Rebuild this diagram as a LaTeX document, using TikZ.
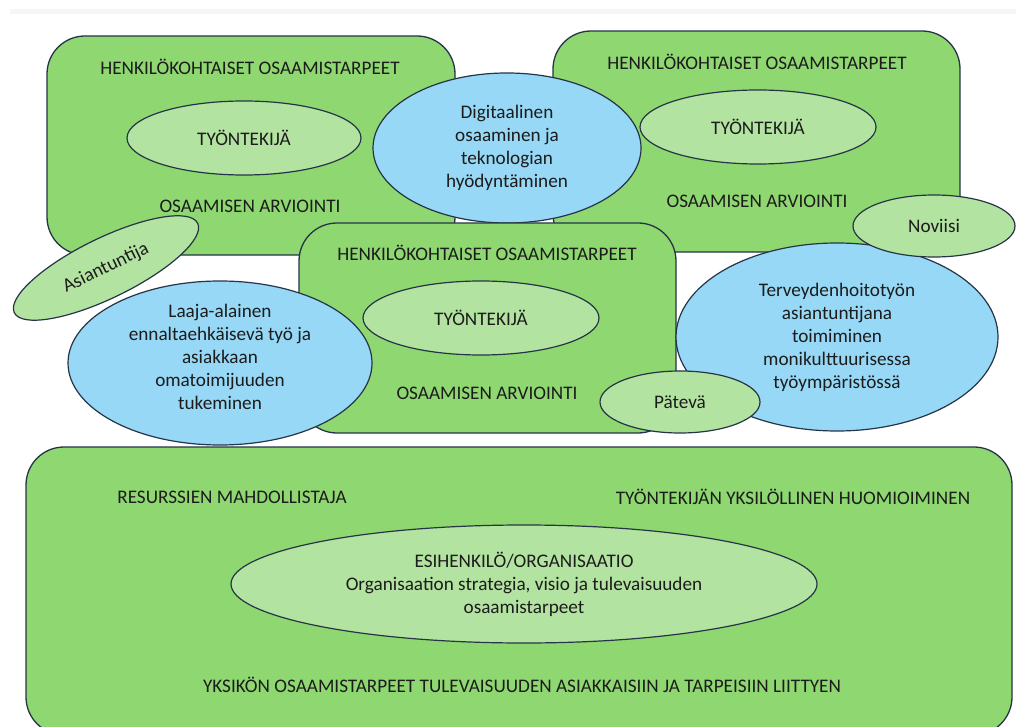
\documentclass[tikz,border=0pt]{standalone}
\usepackage{fontspec}
\setmainfont{Carlito}
\usetikzlibrary{shapes.geometric}
\definecolor{boxgreen}{HTML}{8FD770}
\definecolor{lightgreen}{HTML}{B3E3A0}
\definecolor{skyblue}{HTML}{96D8F5}
\definecolor{edgecol}{HTML}{253446}
\definecolor{textcol}{HTML}{1C1C1C}
\definecolor{topline}{HTML}{F6F6F6}
\tikzset{
  txt/.style={font=\fontsize{19.2}{23}\selectfont, text=textcol, inner sep=0pt},
  bigbox/.style={draw=edgecol, line width=1.3pt, fill=boxgreen, rounded corners=38pt, inner sep=0pt},
  greenoval/.style={ellipse, draw=edgecol, line width=1.2pt, fill=lightgreen, inner sep=0pt, txt},
  blueoval/.style={ellipse, draw=edgecol, line width=1.2pt, fill=skyblue, inner sep=0pt, txt, align=center}
}
\begin{document}
\begin{tikzpicture}[x=1pt,y=-1pt]
\useasboundingbox (0,0) rectangle (1016,727);
\fill[topline] (10,9) rectangle (1016,14);
% box A
\node[bigbox, minimum width=408pt, minimum height=219pt] (boxA) at (251,145.5) {};
\node[txt] (hA) at (250,67) {HENKILÖKOHTAISET OSAAMISTARPEET};
\node[greenoval, minimum width=234pt, minimum height=74pt] (tA) at (244,138) {TYÖNTEKIJÄ};
\node[txt] (oA) at (250,206) {OSAAMISEN ARVIOINTI};
% box B
\node[bigbox, minimum width=407pt, minimum height=221pt] (boxB) at (756.5,141.5) {};
\node[txt] (hB) at (757,62) {HENKILÖKOHTAISET OSAAMISTARPEET};
\node[greenoval, minimum width=236pt, minimum height=74pt] (tB) at (758,127) {TYÖNTEKIJÄ};
\node[txt] (oB) at (757,201) {OSAAMISEN ARVIOINTI};
% digital
\node[blueoval, minimum width=268pt, minimum height=150pt] (digi) at (507,148)
  {Digitaalinen\\osaaminen ja\\teknologian\\hyödyntäminen};
% box C
\node[bigbox, minimum width=377pt, minimum height=210pt] (boxC) at (487.5,328) {};
\node[txt] (hC) at (487,253) {HENKILÖKOHTAISET OSAAMISTARPEET};
\node[greenoval, minimum width=236pt, minimum height=74pt] (tC) at (481,318) {TYÖNTEKIJÄ};
\node[txt] (oC) at (487,393) {OSAAMISEN ARVIOINTI};
% side ovals
\node[greenoval, rotate=26, minimum width=204pt, minimum height=60pt] (asi) at (106,268) {Asiantuntija};
\node[blueoval, minimum width=304pt, minimum height=164pt] (laaja) at (220,363) {};
\node[txt, align=center] (laajatxt) at (220,357)
  {Laaja-alainen\\ennaltaehkäisevä työ ja\\asiakkaan\\omatoimijuuden\\tukeminen};
\node[blueoval, minimum width=322pt, minimum height=188pt] (terv) at (837,337)
  {Terveydenhoitotyön\\asiantuntijana\\toimiminen\\monikulttuurisessa\\työympäristössä};
\node[greenoval, minimum width=162pt, minimum height=62pt] (nov) at (934,226) {Noviisi};
\node[greenoval, minimum width=160pt, minimum height=62pt] (pat) at (680,402) {Pätevä};
% bottom box
\node[bigbox, minimum width=986pt, minimum height=288pt] (boxD) at (519,591) {};
\node[txt] (res) at (232,497) {RESURSSIEN MAHDOLLISTAJA};
\node[txt] (yks) at (793,497) {TYÖNTEKIJÄN YKSILÖLLINEN HUOMIOIMINEN};
\node[greenoval, align=center, minimum width=586pt, minimum height=118pt] (esi) at (524,584)
  {ESIHENKILÖ/ORGANISAATIO\\Organisaation strategia, visio ja tulevaisuuden\\osaamistarpeet};
\node[txt] (yk) at (522,685) {YKSIKÖN OSAAMISTARPEET TULEVAISUUDEN ASIAKKAISIIN JA TARPEISIIN LIITTYEN};
\end{tikzpicture}
\end{document}
